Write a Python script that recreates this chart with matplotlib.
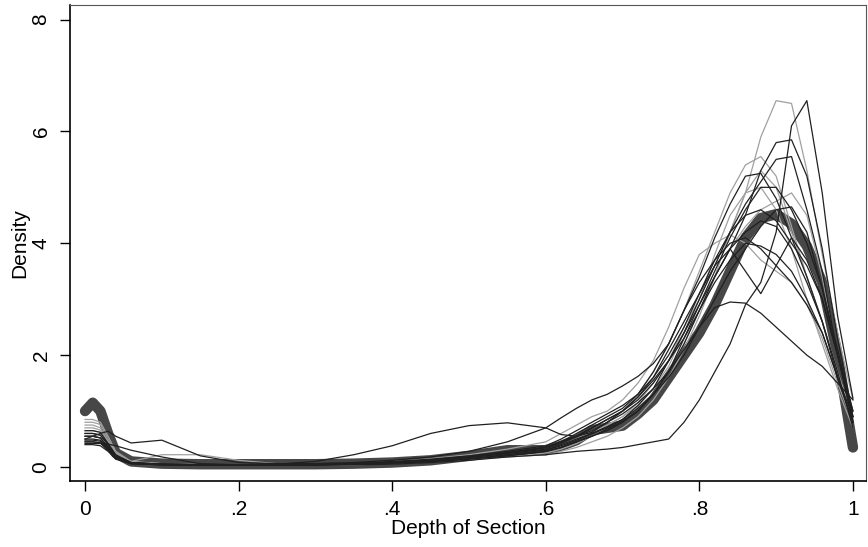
import matplotlib
matplotlib.use("Agg")
import matplotlib.pyplot as plt

plt.rcParams['font.family'] = ['Liberation Sans', 'DejaVu Sans']

depth = [0, .01, .02, .03, .04, .06, .1, .15, .2, .25, .3, .35, .4, .45, .5, .55,
         .6, .62, .64, .66, .68, .70, .72, .74, .76, .78, .80, .82, .84, .86, .88,
         .90, .92, .94, .96, .98, 1.0]

# overall (thick) density
dens_all = [1.0, 1.15, 1.0, 0.6, 0.25, 0.1, 0.06, 0.05, 0.05, 0.05, 0.05, 0.06, 0.08, 0.12, 0.2, 0.3,
            0.3, 0.38, 0.48, 0.66, 0.7, 0.74, 0.95, 1.2, 1.6, 2.0, 2.4, 2.9, 3.5, 4.1, 4.45,
            4.52, 4.35, 3.95, 3.3, 2.0, 0.35]

# individual densities (black ones)
dens_b1 = [0.45, 0.45, 0.43, 0.3, 0.15, 0.06, 0.04, 0.03, 0.03, 0.03, 0.03, 0.04, 0.05, 0.08, 0.12, 0.18,
           0.22, 0.25, 0.28, 0.3, 0.32, 0.35, 0.4, 0.45, 0.5, 0.8, 1.2, 1.7, 2.2, 2.9, 3.3,
           4.2, 6.1, 6.55, 4.9, 2.7, 1.23]
dens_b2 = [0.55, 0.55, 0.52, 0.35, 0.18, 0.07, 0.05, 0.04, 0.04, 0.04, 0.05, 0.06, 0.08, 0.1, 0.14, 0.2,
           0.28, 0.35, 0.45, 0.55, 0.65, 0.8, 1.0, 1.3, 1.7, 2.2, 2.8, 3.4, 3.9, 4.5, 5.3,
           5.8, 5.85, 5.2, 3.9, 2.3, 0.9]
dens_b3 = [0.6, 0.6, 0.57, 0.4, 0.2, 0.08, 0.05, 0.04, 0.04, 0.04, 0.04, 0.05, 0.07, 0.1, 0.15, 0.22,
           0.3, 0.4, 0.5, 0.6, 0.7, 0.85, 1.1, 1.4, 1.9, 2.4, 3.0, 3.6, 4.2, 4.7, 5.1,
           5.5, 5.55, 4.6, 3.5, 2.0, 0.8]
dens_b4 = [0.5, 0.5, 0.48, 0.33, 0.17, 0.07, 0.05, 0.04, 0.04, 0.04, 0.05, 0.06, 0.08, 0.12, 0.18, 0.25,
           0.35, 0.45, 0.6, 0.75, 0.9, 1.05, 1.3, 1.7, 2.2, 2.8, 3.4, 4.1, 4.7, 5.2, 5.25,
           4.8, 4.1, 3.4, 2.6, 1.6, 0.8]
dens_b5 = [0.65, 0.65, 0.62, 0.42, 0.22, 0.08, 0.05, 0.05, 0.04, 0.04, 0.04, 0.05, 0.07, 0.1, 0.15, 0.22,
           0.3, 0.38, 0.48, 0.6, 0.72, 0.85, 1.05, 1.3, 1.6, 2.0, 2.5, 3.0, 3.5, 3.9, 4.3,
           4.6, 4.65, 4.2, 3.2, 2.0, 0.9]
dens_b6 = [0.4, 0.4, 0.38, 0.28, 0.14, 0.06, 0.04, 0.04, 0.04, 0.04, 0.05, 0.06, 0.08, 0.12, 0.18, 0.25,
           0.35, 0.45, 0.55, 0.7, 0.85, 1.0, 1.25, 1.6, 2.1, 2.6, 3.1, 3.6, 3.9, 3.5, 3.1,
           3.6, 4.1, 3.7, 3.0, 2.0, 0.8]
dens_b7 = [0.45, 0.45, 0.43, 0.3, 0.15, 0.07, 0.05, 0.04, 0.04, 0.04, 0.05, 0.06, 0.08, 0.12, 0.18, 0.26,
           0.35, 0.45, 0.55, 0.65, 0.8, 0.95, 1.15, 1.4, 1.7, 2.1, 2.5, 2.85, 2.95, 2.93, 2.75,
           2.5, 2.25, 2.0, 1.8, 1.5, 1.2]
dens_b8 = [0.5, 0.55, 0.6, 0.64, 0.55, 0.43, 0.48, 0.2, 0.08, 0.06, 0.06, 0.07, 0.1, 0.14, 0.2, 0.28,
           0.38, 0.5, 0.65, 0.8, 0.95, 1.1, 1.3, 1.6, 2.0, 2.5, 3.1, 3.7, 4.2, 4.5, 4.6,
           4.4, 4.0, 3.6, 3.0, 2.0, 1.0]
dens_b9 = [0.42, 0.42, 0.42, 0.41, 0.38, 0.3, 0.18, 0.06, 0.05, 0.05, 0.05, 0.06, 0.08, 0.12, 0.17, 0.24,
           0.32, 0.42, 0.55, 0.7, 0.85, 1.0, 1.2, 1.5, 1.9, 2.4, 2.9, 3.4, 3.9, 4.2, 4.4,
           4.3, 3.9, 3.3, 2.6, 1.7, 0.7]
dens_b10 = [0.55, 0.55, 0.52, 0.36, 0.18, 0.07, 0.04, 0.03, 0.03, 0.05, 0.1, 0.22, 0.38, 0.6, 0.74, 0.79,
            0.7, 0.58, 0.55, 0.62, 0.8, 1.0, 1.25, 1.55, 1.9, 2.3, 2.8, 3.3, 3.7, 4.0, 3.95,
            3.8, 3.5, 3.0, 2.4, 1.6, 0.8]
dens_b11 = [0.6, 0.6, 0.57, 0.4, 0.2, 0.08, 0.05, 0.04, 0.04, 0.05, 0.06, 0.08, 0.12, 0.18, 0.28, 0.45,
            0.7, 0.88, 1.05, 1.2, 1.3, 1.45, 1.62, 1.85, 2.2, 2.8, 3.3, 3.7, 4.0, 4.1, 3.9,
            3.6, 3.3, 2.9, 2.4, 1.6, 0.9]
dens_b12 = [0.48, 0.48, 0.46, 0.32, 0.16, 0.06, 0.04, 0.04, 0.03, 0.03, 0.04, 0.05, 0.07, 0.1, 0.15, 0.2,
            0.28, 0.35, 0.45, 0.55, 0.68, 0.82, 1.0, 1.3, 1.7, 2.3, 2.9, 3.5, 4.1, 4.6, 5.0,
            5.0, 4.6, 4.0, 3.2, 2.1, 1.0]

# individual densities (grey ones)
dens_g1 = [0.7, 0.7, 0.66, 0.45, 0.25, 0.08, 0.05, 0.04, 0.03, 0.03, 0.03, 0.04, 0.06, 0.1, 0.15, 0.22,
           0.3, 0.38, 0.5, 0.62, 0.75, 0.9, 1.15, 1.5, 1.9, 2.5, 3.0, 3.6, 4.2, 4.9, 5.9,
           6.55, 6.5, 5.3, 3.8, 2.4, 1.2]
dens_g2 = [0.8, 0.8, 0.76, 0.5, 0.25, 0.09, 0.06, 0.05, 0.04, 0.04, 0.04, 0.05, 0.07, 0.1, 0.14, 0.2,
           0.3, 0.4, 0.5, 0.65, 0.8, 1.0, 1.3, 1.7, 2.2, 2.8, 3.5, 4.2, 4.9, 5.4, 5.55,
           5.2, 4.3, 3.4, 2.6, 1.7, 0.9]
dens_g3 = [0.85, 0.85, 0.8, 0.55, 0.28, 0.1, 0.06, 0.05, 0.05, 0.04, 0.04, 0.05, 0.06, 0.09, 0.13, 0.18,
           0.25, 0.32, 0.42, 0.55, 0.7, 0.85, 1.05, 1.3, 1.7, 2.2, 2.8, 3.4, 3.9, 4.3, 4.6,
           4.75, 4.9, 4.5, 3.4, 2.0, 0.8]
dens_g4 = [0.75, 0.75, 0.7, 0.45, 0.22, 0.1, 0.22, 0.22, 0.12, 0.06, 0.05, 0.05, 0.07, 0.1, 0.15, 0.22,
           0.3, 0.4, 0.5, 0.62, 0.75, 0.9, 1.1, 1.4, 1.8, 2.4, 3.0, 3.8, 4.5, 4.9, 5.0,
           4.6, 3.9, 3.0, 2.2, 1.4, 0.7]
dens_g5 = [0.65, 0.65, 0.62, 0.42, 0.2, 0.08, 0.05, 0.04, 0.04, 0.04, 0.05, 0.07, 0.1, 0.15, 0.22, 0.32,
           0.45, 0.6, 0.75, 0.9, 1.0, 1.2, 1.5, 1.9, 2.5, 3.2, 3.8, 4.0, 4.15, 4.0, 3.7,
           3.5, 3.3, 2.9, 2.3, 1.5, 0.8]
dens_g6 = [0.55, 0.55, 0.52, 0.35, 0.17, 0.07, 0.05, 0.04, 0.04, 0.04, 0.04, 0.05, 0.07, 0.1, 0.14, 0.18,
           0.22, 0.28, 0.35, 0.45, 0.55, 0.7, 0.9, 1.2, 1.6, 2.1, 2.7, 3.4, 4.2, 4.9, 5.3,
           5.0, 4.2, 3.4, 2.6, 1.7, 0.8]

black_lines = [dens_b1, dens_b2, dens_b3, dens_b4, dens_b5, dens_b6, dens_b7, dens_b8,
               dens_b9, dens_b10, dens_b11, dens_b12]
grey_lines = [dens_g1, dens_g2, dens_g3, dens_g4, dens_g5, dens_g6]

fig = plt.figure(figsize=(8.68, 5.47), dpi=100)
ax = fig.add_axes([70 / 868, 66 / 547, 796 / 868, 476 / 547])

ax.plot(depth, dens_all, color='#474747', lw=7.5, solid_capstyle='round',
        solid_joinstyle='round', zorder=2)
for d in grey_lines:
    ax.plot(depth, d, color='#a0a0a0', lw=0.9, zorder=3)
for d in black_lines:
    ax.plot(depth, d, color='#202020', lw=0.9, zorder=3)

ax.set_xlim(-0.0196, 1.017)
ax.set_ylim(-0.25, 8.26)
ax.set_xticks([0, .2, .4, .6, .8, 1])
ax.set_xticklabels(['0', '.2', '.4', '.6', '.8', '1'])
ax.set_yticks([0, 2, 4, 6, 8])
ax.set_yticklabels(['0', '2', '4', '6', '8'], rotation=90, va='center')
ax.tick_params(axis='both', length=7, width=1, labelsize=15, pad=7, color='black')

ax.set_xlabel('Depth of Section', fontsize=15, labelpad=0)
ax.set_ylabel('Density', fontsize=15, labelpad=2)

for s in ['left', 'bottom']:
    ax.spines[s].set_linewidth(1.2)
    ax.spines[s].set_color('black')
for s in ['top', 'right']:
    ax.spines[s].set_linewidth(0.8)
    ax.spines[s].set_color('#555555')

fig.savefig('out.png', dpi=100)
